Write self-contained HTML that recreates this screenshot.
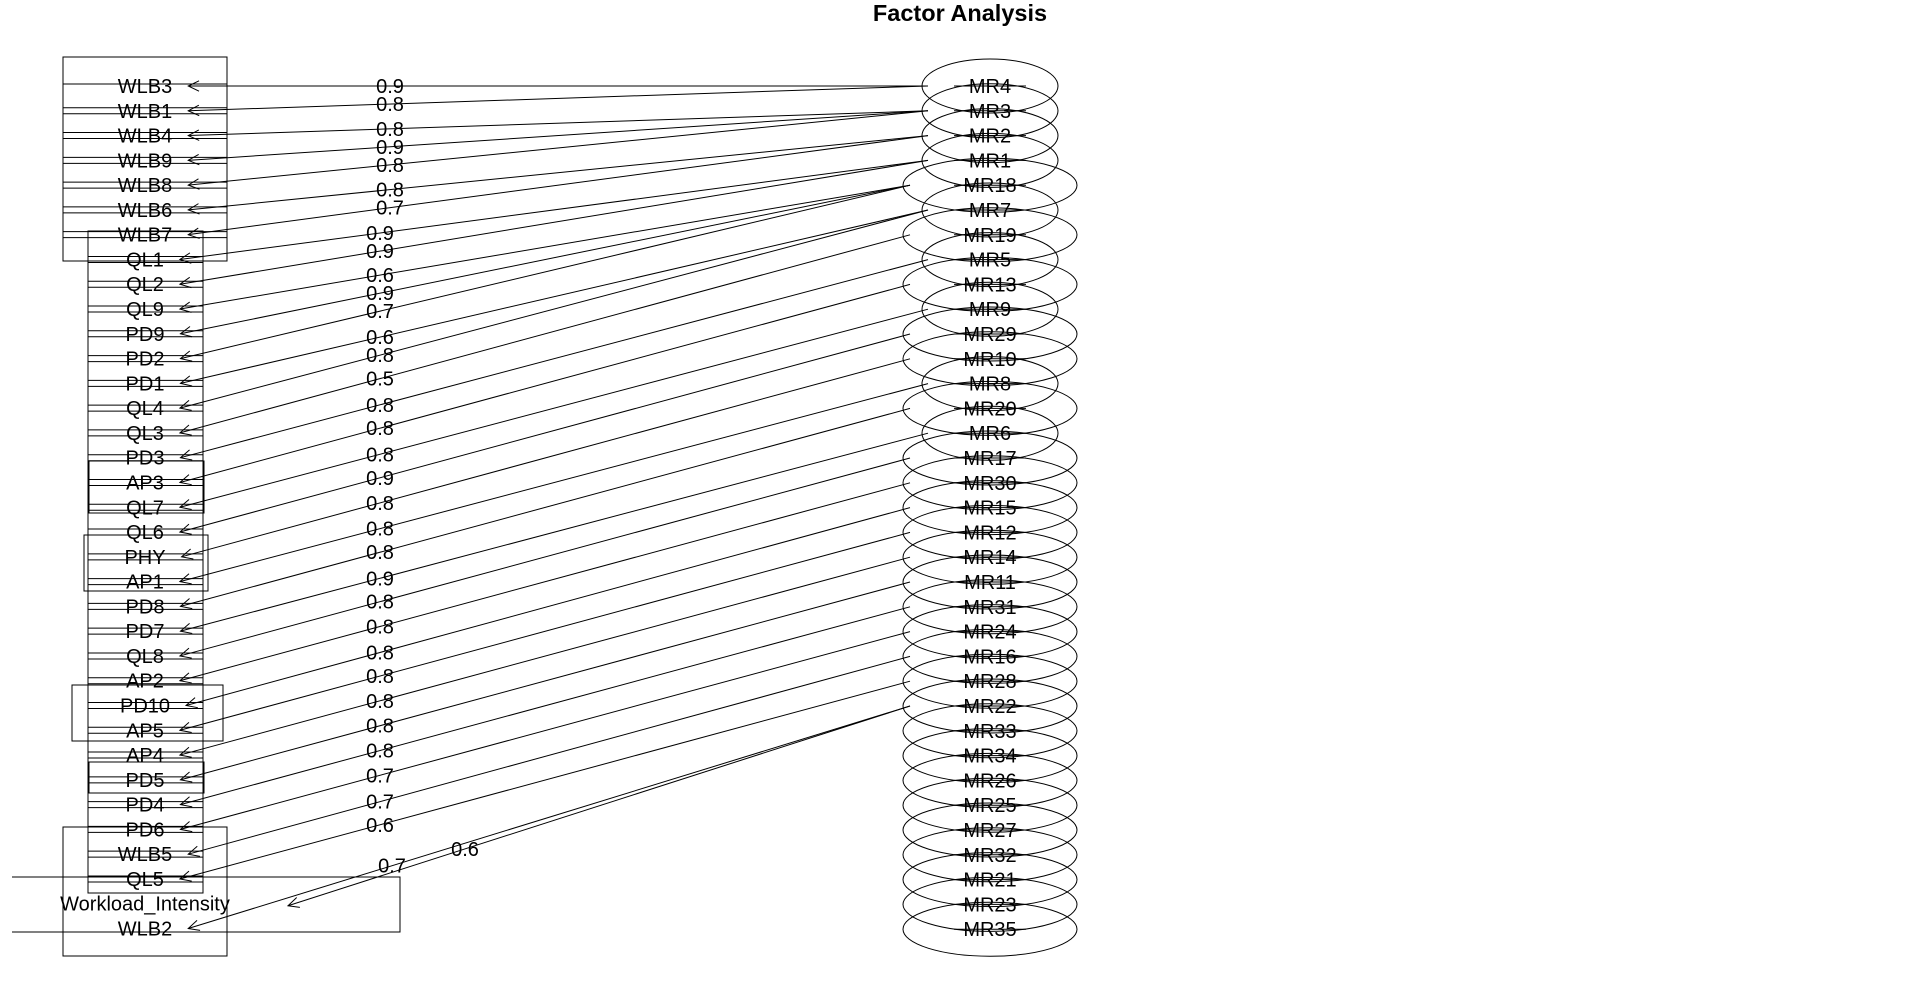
<!DOCTYPE html>
<html><head><meta charset="utf-8"><style>
html,body{margin:0;padding:0;background:#fff;}
svg{display:block;font-family:"Liberation Sans",Arial,sans-serif;}
text{fill:#000;}
</style></head><body>
<svg id="chart" width="1920" height="1002" viewBox="0 0 1920 1002" xmlns="http://www.w3.org/2000/svg">
<text x="960" y="21" text-anchor="middle" font-size="23.5" font-weight="bold">Factor Analysis</text>
<g id="boxes" fill="none" stroke="#000" stroke-width="1"></g>
<g id="links" fill="none" stroke="#000" stroke-width="1"></g>
<g id="vars"></g>
<g id="facs"></g>
</svg>
<script>
const variables = ["WLB3","WLB1","WLB4","WLB9","WLB8","WLB6","WLB7","QL1","QL2","QL9","PD9","PD2","PD1","QL4","QL3","PD3","AP3","QL7","QL6","PHY","AP1","PD8","PD7","QL8","AP2","PD10","AP5","AP4","PD5","PD4","PD6","WLB5","QL5","Workload_Intensity","WLB2"];
const factors = ["MR4","MR3","MR2","MR1","MR18","MR7","MR19","MR5","MR13","MR9","MR29","MR10","MR8","MR20","MR6","MR17","MR30","MR15","MR12","MR14","MR11","MR31","MR24","MR16","MR28","MR22","MR33","MR34","MR26","MR25","MR27","MR32","MR21","MR23","MR35"];
const loadings = [0.9,0.8,0.8,0.9,0.8,0.8,0.7,0.9,0.9,0.6,0.9,0.7,0.6,0.8,0.5,0.8,0.8,0.8,0.9,0.8,0.8,0.8,0.9,0.8,0.8,0.8,0.8,0.8,0.8,0.8,0.7,0.7,0.6,0.6,0.7];
const sources = [0,0,1,1,1,2,2,3,3,4,4,4,5,5,6,7,8,9,10,11,12,13,14,15,16,17,18,19,20,21,22,23,24,25,25];

const NS="http://www.w3.org/2000/svg";
const gB=document.getElementById('boxes'),gL=document.getElementById('links'),gV=document.getElementById('vars'),gF=document.getElementById('facs');
const rowY=i=>86+24.78*i;
const facY=k=>86+24.8*k;
const varX=145, facX=990, FS=20;
function mk(tag,attrs,parent){const e=document.createElementNS(NS,tag);for(const k in attrs)e.setAttribute(k,attrs[k]);parent.appendChild(e);return e;}

const rects=[[63,57,164,204],[88,231,115,662],[89,461,115,52],[84,535,124,56],[72,685,151,56],[89,762,115,31],[63,827,164,129]];
rects.forEach(r=>{const e=mk('rect',{x:r[0],y:r[1],width:r[2],height:r[3]},gB);

});
const wl=mk('path',{d:"M12 877 H400 V932 H12"},gB);


for(let i=1;i<33;i++){const x0=i<7?63:88,x1=i<7?227:203;const y=rowY(i);
const l=mk('path',{d:`M${x0} ${y-3} H${x1} M${x0} ${y+3} H${x1}`},gB);

}
mk('path',{d:`M63 ${rowY(0)-2} H227`},gB);

factors.forEach((f,k)=>{const y=facY(k);const rx=f.length>3?87:68;
const e=mk('ellipse',{cx:facX,cy:y,rx:rx,ry:27,fill:'none',stroke:'#000'},gF);


mk('path',{d:`M${facX-36} ${y} H${facX+36}`,stroke:'#000'},gF);
const t=mk('text',{x:facX,y:y+7,'text-anchor':'middle','font-size':FS},gF);t.textContent=f;

});

variables.forEach((v,i)=>{const y=rowY(i);
const t=mk('text',{x:varX,y:y+7,'text-anchor':'middle','font-size':FS},gV);t.textContent=v;


const w=t.getComputedTextLength();
let tipX=varX+w/2+16, tipY=y;
if(v==="Workload_Intensity"){tipX=288;tipY=y+2;}
const k=sources[i];const sx=facX-(factors[k].length>3?80:62), sy=facY(k);
const line=mk('line',{x1:sx,y1:sy,x2:tipX,y2:tipY},gL);


const a=Math.atan2(sy-tipY,sx-tipX),L=12;
const p1=[tipX+L*Math.cos(a+0.45),tipY+L*Math.sin(a+0.45)],p2=[tipX+L*Math.cos(a-0.45),tipY+L*Math.sin(a-0.45)];
mk('path',{d:`M${p1[0]} ${p1[1]} L${tipX} ${tipY} L${p2[0]} ${p2[1]}`},gL);
let lx=i<7?390:(i<33?380:(i==33?465:392));
const ly=tipY+(sy-tipY)*(lx-tipX)/(sx-tipX);
const lt=mk('text',{x:lx,y:ly+7,'text-anchor':'middle','font-size':FS},gV);lt.textContent=loadings[i].toFixed(1);

});
</script>
</body></html>
